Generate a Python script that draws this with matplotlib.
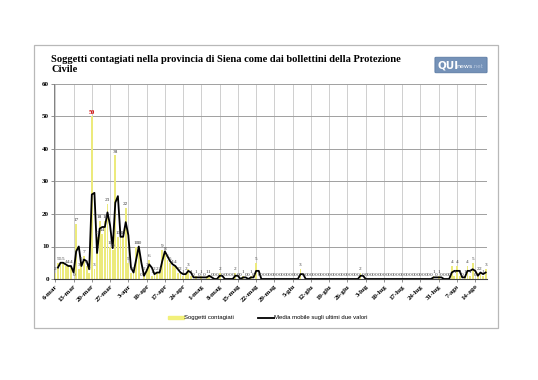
import numpy as np
import pandas as pd
import matplotlib
matplotlib.use("Agg")
import matplotlib.pyplot as plt
from matplotlib.patches import Rectangle, FancyBboxPatch
from matplotlib.lines import Line2D

# daily new cases, 6-mar .. 18-ago 2020
casi = [2, 5, 5, 5, 4, 4, 4, 0, 17, 3,
        5, 7, 4, 2, 50, 3, 13, 18, 14, 18,
        23, 10, 9, 38, 13, 13, 13, 22, 5, 2,
        2, 10, 10, 0, 2, 3, 6, 1, 2, 2,
        2, 9, 8, 6, 5, 4, 4, 2, 2, 1,
        2, 3, 1, 0, 1, 0, 1, 0, 1, 1,
        0, 0, 0, 2, 0, 0, 0, 0, 0, 2,
        0, 0, 1, 0, 0, 1, 0, 5, 0, 0,
        0, 0, 0, 0, 0, 0, 0, 0, 0, 0,
        0, 0, 0, 0, 3, 0, 0, 0, 0, 0,
        0, 0, 0, 0, 0, 0, 0, 0, 0, 0,
        0, 0, 0, 0, 0, 0, 0, 2, 0, 0,
        0, 0, 0, 0, 0, 0, 0, 0, 0, 0,
        0, 0, 0, 0, 0, 0, 0, 0, 0, 0,
        0, 0, 0, 0, 0, 1, 0, 1, 0, 0,
        0, 0, 4, 1, 4, 1, 0, 1, 4, 1,
        5, 0, 2, 2, 1, 3]

tick_labels = ["6-mar", "13-mar", "20-mar", "27-mar", "3-apr", "10-apr",
               "17-apr", "24-apr", "1-mag", "8-mag", "15-mag", "22-mag",
               "29-mag", "5-giu", "12-giu", "19-giu", "26-giu", "3-lug",
               "10-lug", "17-lug", "24-lug", "31-lug", "7-ago", "14-ago"]

titolo = ("Soggetti contagiati nella provincia di Siena come dai bollettini della Protezione\n"
          "Civile")

n = len(casi)
x = np.arange(n)
media = pd.Series(casi).rolling(2).mean()

W, H = 538, 380
fig = plt.figure(figsize=(W / 100, H / 100), dpi=100)
fig.patch.set_facecolor("white")

# outer frame of the chart
fig.patches.append(Rectangle((34 / W, 1 - 328 / H), 464 / W, 283 / H,
                             transform=fig.transFigure, fill=False,
                             edgecolor="#b8b8b8", lw=0.9))

ax = fig.add_axes([54 / W, 1 - 279 / H, 433 / W, 195 / H])

ax.bar(x, casi, width=0.7, color="#ecea7c", zorder=2)
ax.plot(x, media, color="black", lw=1.3, zorder=3)

serif = "Liberation Serif"
for xi, v in zip(x, casi):
    if v == 50:
        ax.text(xi, v + 0.6, str(v), ha="center", va="bottom", fontsize=4.5,
                color="#d00000", fontweight="bold", family=serif, zorder=4)
    else:
        ax.text(xi, v + 0.6, str(v), ha="center", va="bottom", fontsize=3.8,
                color="#404040", family=serif, zorder=4)

ax.set_xlim(-0.5, n - 0.5)
ax.set_ylim(0, 60)
ax.set_yticks(range(0, 61, 10))
ax.set_xticks(np.arange(0, n, 7)[:len(tick_labels)])
ax.set_xticklabels(tick_labels, rotation=45, ha="right", rotation_mode="anchor")
for lab in ax.get_xticklabels() + ax.get_yticklabels():
    lab.set_family(serif)
    lab.set_fontweight("bold")
    lab.set_fontsize(5)
ax.tick_params(axis="both", length=2, width=0.6, pad=1.5, color="#808080")

ax.grid(axis="y", color="#a0a0a0", lw=0.7, zorder=0)
ax.grid(axis="x", color="#c8c8c8", lw=0.6, zorder=0)
ax.set_axisbelow(True)
for s in ["top", "right"]:
    ax.spines[s].set_visible(False)
ax.spines["left"].set_color("#808080")
ax.spines["left"].set_linewidth(0.7)
ax.spines["bottom"].set_color("#404040")
ax.spines["bottom"].set_linewidth(0.8)

fig.text(51 / W, 1 - 55 / H, titolo, ha="left", va="top", fontsize=7.6,
         fontweight="bold", family=serif, linespacing=1.1)

# logo
fig.patches.append(FancyBboxPatch((436 / W, 1 - 72 / H), 50 / W, 14 / H,
                                  boxstyle="round,pad=0.002",
                                  transform=fig.transFigure,
                                  facecolor="#7592b8", edgecolor="#5a7aa3", lw=0.6))
fig.text(438 / W, 1 - 65 / H, "QUI", ha="left", va="center", fontsize=7.5,
         fontweight="bold", color="white", family="DejaVu Sans")
fig.text(456 / W, 1 - 66 / H, "news", ha="left", va="center", fontsize=4.5,
         color="white", family="DejaVu Sans")
fig.text(472 / W, 1 - 66 / H, ".net", ha="left", va="center", fontsize=4,
         color="#b5c6dd", family="DejaVu Sans")

handles = [Rectangle((0, 0), 1, 1, color="#f2f07a"),
           Line2D([], [], color="black", lw=1.3)]
fig.legend(handles, ["Soggetti contagiati", "Media mobile sugli ultimi due valori"],
           loc="center", bbox_to_anchor=(268 / W, 1 - 318 / H), ncol=2,
           frameon=False, prop={"family": "Liberation Sans", "size": 4.3},
           handlelength=2.6, handleheight=0.5, handletextpad=0.1, columnspacing=4)

fig.savefig("out.png", dpi=100)
